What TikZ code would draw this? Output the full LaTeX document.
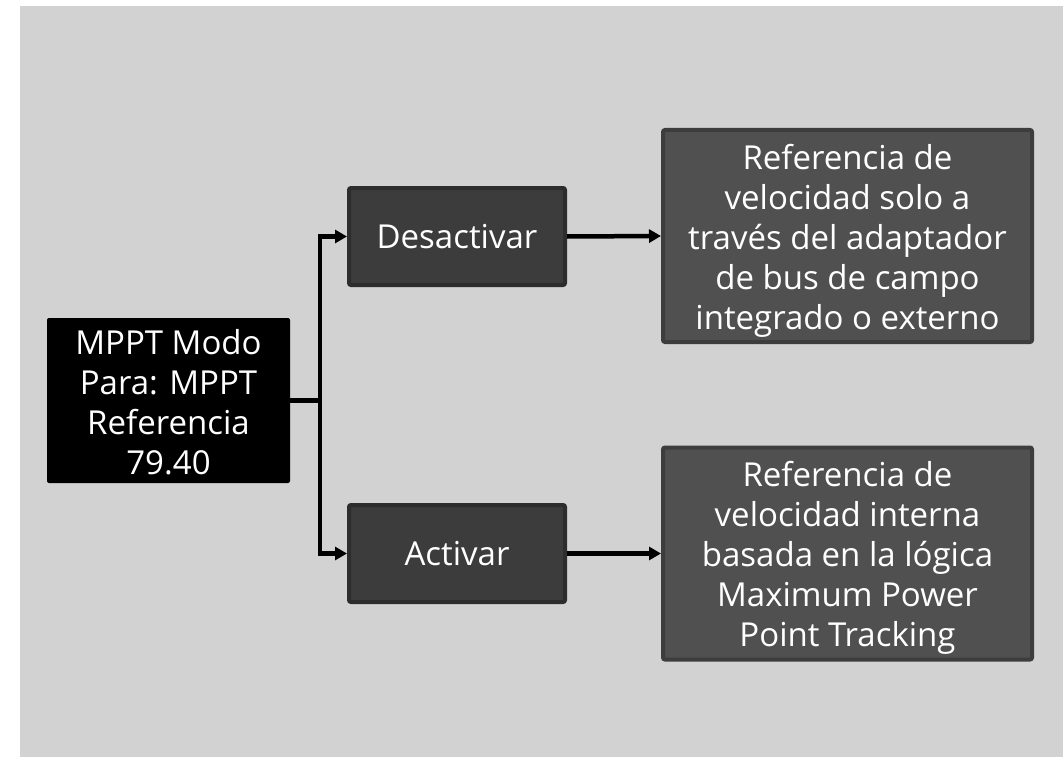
\documentclass[tikz,border=0pt]{standalone}
\usepackage{fontspec}
\setmainfont{Open Sans}
\usetikzlibrary{arrows.meta}
\definecolor{bggray}{HTML}{D2D2D2}
\definecolor{midfill}{HTML}{3C3C3C}
\definecolor{midborder}{HTML}{2D2D2D}
\definecolor{outfill}{HTML}{505050}
\definecolor{outborder}{HTML}{3D3D3D}
\newcommand{\topstrut}{\rule{0pt}{34pt}}
\newcommand{\srcstrut}{\rule{0pt}{29pt}}
\tikzset{
  txt/.style={text=white, align=center, font=\fontsize{33}{40}\selectfont, inner sep=0pt},
  srcbox/.style={txt, fill=black, rounded corners=2pt, minimum width=243pt, minimum height=165pt},
  midbox/.style={txt, fill=midfill, draw=midborder, line width=4pt, rounded corners=2pt, minimum width=216pt, minimum height=97pt},
  outbox/.style={txt, fill=outfill, draw=outborder, line width=4pt, rounded corners=2pt, minimum width=369pt, minimum height=212pt},
  conn/.style={line width=4.5pt, black, line join=miter},
  arr/.style={conn, -{Triangle[length=12pt,width=13pt]}},
}
\begin{document}
\begin{tikzpicture}[x=1pt,y=-1pt]
\useasboundingbox (0,0) rectangle (1063,757);
\fill[bggray] (20,6) rectangle (1063,757);
\node[srcbox] (src) at (168.5,400.5) {\srcstrut MPPT Modo\\Para: MPPT\\Referencia\\79.40};
\node[midbox] (des) at (457,236.5) {Desactivar};
\node[midbox] (act) at (457,553.5) {Activar};
\node[outbox] (out1) at (847.5,236) {\topstrut Referencia de\\velocidad solo a\\través del adaptador\\de bus de campo\\integrado o externo};
\node[outbox] (out2) at (847.5,553.5) {\topstrut Referencia de\\velocidad interna\\basada en la lógica\\Maximum Power\\Point Tracking};
\coordinate (j) at (320,400.5);
\draw[conn] (src.east) -- (j);
\draw[arr] (j) |- (des.west);
\draw[arr] (j) |- (act.west);
\draw[arr] (des.east) -- (out1.west);
\draw[arr] (act.east) -- (out2.west);
\end{tikzpicture}
\end{document}
